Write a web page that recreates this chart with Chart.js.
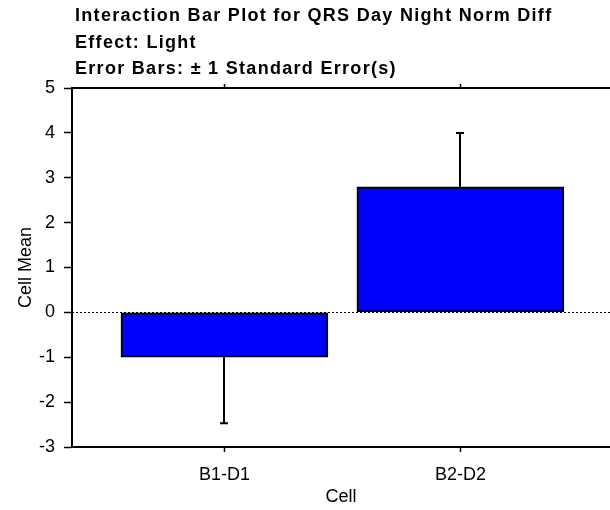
<!DOCTYPE html>
<html>
<head>
<meta charset="utf-8">
<script src="https://cdn.jsdelivr.net/npm/chart.js@4.4.1/dist/chart.umd.min.js"></script>
<style>
  html, body { margin: 0; padding: 0; background: #fff; }
  canvas { display: block; }
</style>
</head>
<body>
<canvas id="c" width="610" height="510"></canvas>
<script>
// data
const cells = ['B1-D1', 'B2-D2'];
const cellMeans = [-1.0, 2.8];
const stdErrors = [1.47, 1.2];
const titleLines = [
  'Interaction Bar Plot for QRS Day Night Norm Diff',
  'Effect: Light',
  'Error Bars: \u00b1 1 Standard Error(s)'
];

const FONT = '"Liberation Sans", Arial, sans-serif';

// header text, drawn left aligned above the plot
const headerPlugin = {
  id: 'header',
  afterDraw(chart) {
    const ctx = chart.ctx;
    ctx.save();
    ctx.fillStyle = '#000';
    ctx.font = 'bold 18px ' + FONT;
    ctx.letterSpacing = '1.3px';
    ctx.textBaseline = 'alphabetic';
    titleLines.forEach((t, i) => ctx.fillText(t, 75, 21 + i * 26.5));
    ctx.restore();
  }
};

// dotted zero line + short minor ticks on y
const zeroLinePlugin = {
  id: 'zeroLine',
  beforeDatasetsDraw(chart) {
    const { ctx, chartArea } = chart;
    const y = Math.round(chart.scales.y.getPixelForValue(0)) + 0.5;
    ctx.save();
    ctx.strokeStyle = '#000';
    ctx.lineWidth = 1;
    ctx.setLineDash([2, 2]);
    ctx.beginPath();
    ctx.moveTo(chartArea.left, y);
    ctx.lineTo(chartArea.right, y);
    ctx.stroke();
    ctx.restore();
  },
  afterDraw(chart) {
    const { ctx, chartArea } = chart;
    const ys = chart.scales.y;
    ctx.save();
    ctx.strokeStyle = '#000';
    ctx.lineWidth = 1.5;
    ys.ticks.forEach(t => {
      if (t.value % 1 === 0) return;
      const y = ys.getPixelForValue(t.value);
      ctx.beginPath();
      ctx.moveTo(chartArea.left - 4, y);
      ctx.lineTo(chartArea.left, y);
      ctx.stroke();
    });
    ctx.restore();
  }
};

// one sided error bars pointing away from zero
const errorBarPlugin = {
  id: 'errorBars',
  afterDatasetsDraw(chart) {
    const ctx = chart.ctx;
    const ys = chart.scales.y;
    const meta = chart.getDatasetMeta(0);
    ctx.save();
    ctx.strokeStyle = '#000';
    ctx.lineWidth = 2;
    meta.data.forEach((bar, i) => {
      const m = cellMeans[i];
      const end = m >= 0 ? m + stdErrors[i] : m - stdErrors[i];
      const y0 = ys.getPixelForValue(m);
      const y1 = ys.getPixelForValue(end);
      const x = Math.round(bar.x);
      ctx.beginPath();
      ctx.moveTo(x, y0);
      ctx.lineTo(x, y1);
      ctx.moveTo(x - 4, y1);
      ctx.lineTo(x + 4, y1);
      ctx.stroke();
    });
    ctx.restore();
  }
};

const xLimits = { min: 0.354, max: 2.634 };

new Chart(document.getElementById('c'), {
  type: 'bar',
  data: {
    datasets: [{
      data: cellMeans.map((v, i) => ({ x: i + 1, y: v })),
      backgroundColor: '#0000ff',
      borderColor: '#000',
      borderWidth: 2,
      borderSkipped: false,
      barThickness: 207
    }]
  },
  options: {
    responsive: false,
    animation: false,
    layout: { padding: 0 },
    plugins: { legend: { display: false }, tooltip: { enabled: false } },
    scales: {
      x: {
        type: 'linear',
        position: 'bottom',
        min: xLimits.min,
        max: xLimits.max,
        offset: false,
        afterFit: s => { s.height = 63; },
        ticks: {
          stepSize: 1,
          includeBounds: false,
          padding: 12,
          color: '#000',
          font: { family: FONT, size: 18 },
          callback: v => cells[v - 1] || ''
        },
        grid: { drawOnChartArea: false, tickLength: 5, tickColor: '#000', tickWidth: 1.5, offset: false },
        border: { color: '#000', width: 2 },
        title: { display: true, text: 'Cell', color: '#000', font: { family: FONT, size: 18 }, padding: { top: 0, bottom: 2 } }
      },
      xt: {
        type: 'linear',
        position: 'top',
        min: xLimits.min,
        max: xLimits.max,
        offset: false,
        afterFit: s => { s.height = 88; },
        ticks: {
          stepSize: 1,
          includeBounds: false,
          color: 'rgba(0,0,0,0)',
          font: { size: 1 },
          padding: 0,
          callback: () => ''
        },
        grid: { drawOnChartArea: false, tickLength: 4, tickColor: '#000', tickWidth: 1.5, offset: false },
        border: { color: '#000', width: 2 }
      },
      y: {
        min: -3,
        max: 5,
        afterFit: s => { s.width = 72; },
        ticks: {
          stepSize: 0.5,
          padding: 9,
          color: '#000',
          font: { family: FONT, size: 18 },
          callback: v => (v % 1 === 0 ? String(v) : '')
        },
        grid: {
          drawOnChartArea: false,
          tickLength: 8,
          tickWidth: 1.5,
          tickColor: c => (c.tick && c.tick.value % 1 === 0 ? '#000' : 'rgba(0,0,0,0)')
        },
        border: { color: '#000', width: 2 },
        title: { display: true, text: 'Cell Mean', color: '#000', font: { family: FONT, size: 18 }, padding: { top: 15, bottom: 0 } }
      }
    }
  },
  plugins: [headerPlugin, zeroLinePlugin, errorBarPlugin]
});
</script>
</body>
</html>
